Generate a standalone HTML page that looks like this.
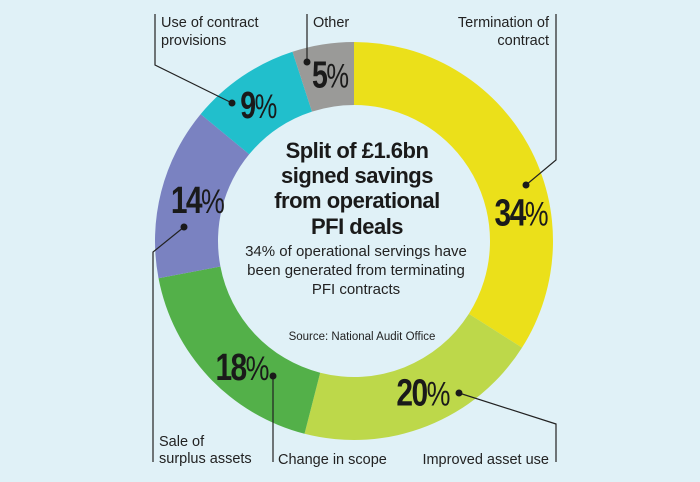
<!DOCTYPE html>
<html><head><meta charset="utf-8"><style>
html,body{margin:0;padding:0;background:#e0f1f7;}
svg{display:block;}
.lbl{font-family:"Liberation Sans",sans-serif;font-size:14.5px;fill:#222;}
.num{font-family:"Liberation Sans Narrow","Liberation Sans",sans-serif;font-weight:bold;fill:#1a1a1a;}
.pct{font-family:"Liberation Sans Narrow","Liberation Sans",sans-serif;font-weight:normal;fill:#1a1a1a;}
</style></head><body>
<svg id="chart" width="700" height="482" viewBox="0 0 700 482">
<rect width="700" height="482" fill="#e0f1f7"/>
<g id="slices"></g>
<g id="pcts"></g>
<g font-family="Liberation Sans,sans-serif" font-weight="bold" font-size="22" fill="#1a1a1a" text-anchor="middle" letter-spacing="-0.5">
<text x="357" y="158">Split of £1.6bn</text>
<text x="357" y="183">signed savings</text>
<text x="357" y="208">from operational</text>
<text x="357" y="234">PFI deals</text>
</g>
<g font-family="Liberation Sans,sans-serif" font-size="15" fill="#222" text-anchor="middle">
<text x="356" y="256">34% of operational servings have</text>
<text x="356" y="275">been generated from terminating</text>
<text x="356" y="294">PFI contracts</text>
</g>
<text x="362" y="340" font-family="Liberation Sans,sans-serif" font-size="11.5" fill="#222" text-anchor="middle">Source: National Audit Office</text>
<g stroke="#222" stroke-width="1.2" fill="none">
<polyline points="155,14 155,65 232,103"/>
<polyline points="307,14 307,62"/>
<polyline points="556,14 556,160 526,185"/>
<polyline points="153,462 153,252 184,227"/>
<polyline points="273,376 273,462"/>
<polyline points="459,393 556,424 556,462"/>
</g>
<g fill="#1a1a1a">
<circle cx="232" cy="103" r="3.5"/><circle cx="307" cy="62" r="3.5"/><circle cx="526" cy="185" r="3.5"/>
<circle cx="184" cy="227" r="3.5"/><circle cx="273" cy="376" r="3.5"/><circle cx="459" cy="393" r="3.5"/>
</g>
<g>
<text class="lbl" x="161" y="27">Use of contract</text>
<text class="lbl" x="161" y="45">provisions</text>
<text class="lbl" x="313" y="27">Other</text>
<text class="lbl" x="549" y="27" text-anchor="end">Termination of</text>
<text class="lbl" x="549" y="45" text-anchor="end">contract</text>
<text class="lbl" x="159" y="446">Sale of</text>
<text class="lbl" x="159" y="463">surplus assets</text>
<text class="lbl" x="278" y="464">Change in scope</text>
<text class="lbl" x="549" y="464" text-anchor="end">Improved asset use</text>
</g>
</svg>
<script>
const categories = ["Termination of contract","Improved asset use","Change in scope","Sale of surplus assets","Use of contract provisions","Other"];
const values = [34,20,18,14,9,5];
const colors = ["#ebe01a","#bdd84a","#53b049","#7a82c1","#21bfcc","#9a9a98"];
// label layout nudges (styling, not data)
const labelNudgeX = [19,7,12,8,0,3];
const labelNudgeY = [53,-6,10,1,4,1];
const cx=354, cy=241, R=199, r=136;
const NS="http://www.w3.org/2000/svg";
const total=values.reduce((a,b)=>a+b,0);
function pt(a,rad){return [cx+rad*Math.sin(a), cy-rad*Math.cos(a)];}
const g=document.getElementById('slices'), pg=document.getElementById('pcts');
let acc=0;
values.forEach((v,i)=>{
  const a0=acc/total*2*Math.PI, a1=(acc+v)/total*2*Math.PI; acc+=v;
  const large=(a1-a0)>Math.PI?1:0;
  const [x0,y0]=pt(a0,R),[x1,y1]=pt(a1,R),[x2,y2]=pt(a1,r),[x3,y3]=pt(a0,r);
  const p=document.createElementNS(NS,'path');
  p.setAttribute('d',`M${x0},${y0}A${R},${R} 0 ${large} 1 ${x1},${y1}L${x2},${y2}A${r},${r} 0 ${large} 0 ${x3},${y3}Z`);
  p.setAttribute('fill',colors[i]);
  
  
  g.appendChild(p);
  const am=(a0+a1)/2, [lx,ly]=pt(am,(R+r)/2+2);
  const t=document.createElementNS(NS,'text');
  t.setAttribute('x',lx+labelNudgeX[i]); t.setAttribute('y',ly+13+labelNudgeY[i]);
  t.setAttribute('text-anchor','middle');
  t.setAttribute('textLength', String(v).length>1?54:37);
  t.setAttribute('lengthAdjust','spacingAndGlyphs');
  
  
  const n=document.createElementNS(NS,'tspan'); n.setAttribute('class','num'); n.setAttribute('font-size','38'); n.setAttribute('letter-spacing','-2'); n.textContent=v;
  const s=document.createElementNS(NS,'tspan'); s.setAttribute('class','pct'); s.setAttribute('font-size','34'); s.textContent='%';
  t.appendChild(n); t.appendChild(s); pg.appendChild(t);
});
</script>
</body></html>
